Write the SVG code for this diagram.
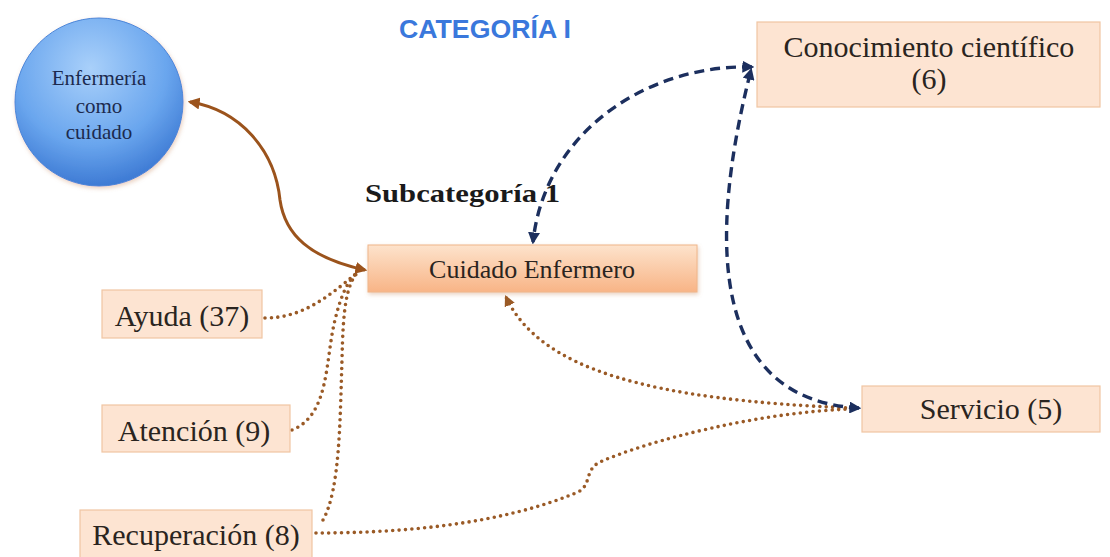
<svg xmlns="http://www.w3.org/2000/svg" width="1110" height="557" viewBox="0 0 1110 557">
<defs>
<style>
.box{fill:#fde4d2;stroke:#f0c5a2;stroke-width:1.2}
.lbl{font-family:"Liberation Serif",serif;fill:#2a2420;text-anchor:middle}
.ball{font-family:"Liberation Serif",serif;fill:#1c2a4e;text-anchor:middle;font-size:21px}
.dot{fill:none;stroke:#9a5a26;stroke-width:3.6;stroke-linecap:round;stroke-dasharray:0 6.4}
.dash{fill:none;stroke:#1c2f5e;stroke-width:3.4;stroke-dasharray:10 6}
.solid{fill:none;stroke:#9b531c;stroke-width:3}
</style>
<radialGradient id="ball" cx="0.45" cy="0.3" r="0.75">
<stop offset="0" stop-color="#a9d0fa"/>
<stop offset="0.6" stop-color="#6aa6ee"/>
<stop offset="1" stop-color="#3572cf"/>
</radialGradient>
<linearGradient id="cuid" x1="0" y1="0" x2="0" y2="1">
<stop offset="0" stop-color="#fde3cc"/>
<stop offset="1" stop-color="#f8b486"/>
</linearGradient>
<filter id="sh" x="-10%" y="-10%" width="130%" height="140%">
<feDropShadow dx="1" dy="2" stdDeviation="2" flood-color="#c98b5e" flood-opacity="0.4"/>
</filter>
<marker id="ab" viewBox="0 0 10 10" refX="8" refY="5" markerWidth="12" markerHeight="12" markerUnits="userSpaceOnUse" orient="auto-start-reverse">
<path d="M0,0 L10,5 L0,10 z" fill="#9b531c"/>
</marker>
<marker id="abd" viewBox="0 0 10 10" refX="8" refY="5" markerWidth="11" markerHeight="11" markerUnits="userSpaceOnUse" orient="auto-start-reverse">
<path d="M0,0 L10,5 L0,10 z" fill="#9a5a26"/>
</marker>
<marker id="an" viewBox="0 0 10 10" refX="8" refY="5" markerWidth="12" markerHeight="12" markerUnits="userSpaceOnUse" orient="auto-start-reverse">
<path d="M0,0 L10,5 L0,10 z" fill="#1c2f5e"/>
</marker>
</defs>
<rect width="1110" height="557" fill="#ffffff"/>

<g id="connectors">
<path class="solid" d="M 365 270 C 310 258, 285 235, 280 200 C 275 150, 240 110, 190 102" marker-start="url(#ab)" marker-end="url(#ab)"/>
<path class="dot" d="M 265 318 C 300 318, 325 300, 358 272"/>
<path class="dot" d="M 292 430 C 330 415, 325 360, 335 320 C 341 295, 348 280, 358 272"/>
<path class="dot" d="M 323 520 C 340 490, 340 420, 342 360 C 343 310, 346 285, 358 272"/>
<path class="dot" d="M 316 533 C 400 533, 500 525, 578 492 C 592 485, 584 470, 600 462 C 650 440, 760 412, 852 409"/>
<path class="dot" d="M 852 408 C 650 400, 540 370, 506 297" marker-end="url(#abd)"/>
<path class="dash" d="M 752 67 C 650 64, 545 130, 533 242" marker-start="url(#an)" marker-end="url(#an)"/>
<path class="dash" d="M 859 408 C 715 400, 705 250, 751 70" marker-start="url(#an)" marker-end="url(#an)"/>
</g>

<g id="title">
<text x="485" y="38" font-family="'Liberation Sans',sans-serif" font-weight="bold" font-size="25" fill="#3a78dc" text-anchor="middle" textLength="172" lengthAdjust="spacingAndGlyphs">CATEGORÍA I</text>
</g>

<g id="subcategoria">
<text x="365" y="202" font-family="'Liberation Serif',serif" font-weight="bold" font-size="26" fill="#1a1a1a" textLength="195" lengthAdjust="spacingAndGlyphs">Subcategoría 1</text>
</g>

<g id="enfermeria">
<circle cx="99" cy="102" r="84" fill="url(#ball)" stroke="#4a86d8" stroke-width="1" filter="url(#sh)"/>
<text class="ball" x="99" y="85">Enfermería</text>
<text class="ball" x="99" y="113">como</text>
<text class="ball" x="99" y="139">cuidado</text>
</g>

<g id="conocimiento">
<rect class="box" x="757" y="22" width="343" height="85"/>
<text class="lbl" x="929" y="57" font-size="30">Conocimiento científico</text>
<text class="lbl" x="929" y="89" font-size="30">(6)</text>
</g>

<g id="cuidado">
<rect x="368" y="245" width="329" height="47" fill="url(#cuid)" stroke="#f0b68a" stroke-width="1" filter="url(#sh)"/>
<text class="lbl" x="532" y="278" font-size="26">Cuidado Enfermero</text>
</g>

<g id="ayuda">
<rect class="box" x="102" y="290" width="160" height="48"/>
<text class="lbl" x="182" y="326" font-size="30">Ayuda (37)</text>
</g>

<g id="atencion">
<rect class="box" x="102" y="405" width="188" height="47"/>
<text class="lbl" x="194" y="441" font-size="30">Atención (9)</text>
</g>

<g id="recuperacion">
<rect class="box" x="80" y="510" width="232" height="50"/>
<text class="lbl" x="196" y="545" font-size="30">Recuperación (8)</text>
</g>

<g id="servicio">
<rect class="box" x="862" y="386" width="238" height="46"/>
<text class="lbl" x="991" y="419" font-size="30">Servicio (5)</text>
</g>
</svg>
